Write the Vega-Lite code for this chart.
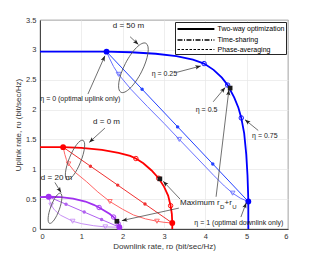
{
"$schema":"https://vega.github.io/schema/vega-lite/v6.json",
"width":248,"height":209,
"autosize":{"type":"none"},
"padding":{"left":40,"top":20,"right":30,"bottom":35},
"background":"white",
"config":{
 "font":"Liberation Sans",
 "view":{"stroke":"#262626","strokeWidth":0.8},
 "text":{"font":"Liberation Sans"},
 "axis":{"grid":true,"gridColor":"#e6e6e6","gridWidth":0.7,"domainColor":"#262626","domainWidth":0.8,"ticks":false,"labelFont":"Liberation Sans","titleFont":"Liberation Sans","labelFontSize":7.5,"labelColor":"#333333","titleFontSize":8,"titleFontWeight":"normal","titleColor":"#333333"},
 "legend":{"orient":"top-right","offset":2,"padding":1.5,"rowPadding":1,"strokeColor":"#262626","fillColor":"white","symbolType":"M-1,0L7.2,0","symbolSize":81,"symbolStrokeColor":"black","symbolBaseStrokeColor":"black","labelFontSize":7,"labelOffset":30,"labelColor":"black","labelFont":"Liberation Sans","title":null}
},
"datasets":{
 "curves":[
  {"d":"50","m":"two","x":0,"y":2.97},{"d":"50","m":"two","x":0.8,"y":2.97},{"d":"50","m":"two","x":1.61,"y":2.97},{"d":"50","m":"two","x":2.2,"y":2.96},{"d":"50","m":"two","x":2.8,"y":2.935},{"d":"50","m":"two","x":3.3,"y":2.895},{"d":"50","m":"two","x":3.7,"y":2.835},{"d":"50","m":"two","x":3.97,"y":2.77},{"d":"50","m":"two","x":4.2,"y":2.665},{"d":"50","m":"two","x":4.4,"y":2.535},{"d":"50","m":"two","x":4.54,"y":2.41},{"d":"50","m":"two","x":4.7,"y":2.2},{"d":"50","m":"two","x":4.8,"y":2.03},{"d":"50","m":"two","x":4.87,"y":1.86},{"d":"50","m":"two","x":4.94,"y":1.6},{"d":"50","m":"two","x":4.99,"y":1.25},{"d":"50","m":"two","x":5.02,"y":0.9},{"d":"50","m":"two","x":5.035,"y":0.6},{"d":"50","m":"two","x":5.04,"y":0.46},{"d":"50","m":"two","x":5.04,"y":0},
  {"d":"50","m":"ts","x":1.61,"y":2.97},{"d":"50","m":"ts","x":5.04,"y":0.46},
  {"d":"50","m":"pa","x":1.61,"y":2.97},{"d":"50","m":"pa","x":1.68,"y":2.86},{"d":"50","m":"pa","x":1.78,"y":2.72},{"d":"50","m":"pa","x":1.9,"y":2.59},{"d":"50","m":"pa","x":2.2,"y":2.34},{"d":"50","m":"pa","x":2.6,"y":2.05},{"d":"50","m":"pa","x":3.0,"y":1.77},{"d":"50","m":"pa","x":3.37,"y":1.5},{"d":"50","m":"pa","x":3.8,"y":1.19},{"d":"50","m":"pa","x":4.2,"y":0.9},{"d":"50","m":"pa","x":4.46,"y":0.72},{"d":"50","m":"pa","x":4.66,"y":0.6},{"d":"50","m":"pa","x":4.85,"y":0.515},{"d":"50","m":"pa","x":5.04,"y":0.46},
  {"d":"0","m":"two","x":0,"y":1.37},{"d":"0","m":"two","x":0.56,"y":1.37},{"d":"0","m":"two","x":1.0,"y":1.36},{"d":"0","m":"two","x":1.5,"y":1.325},{"d":"0","m":"two","x":1.9,"y":1.275},{"d":"0","m":"two","x":2.18,"y":1.225},{"d":"0","m":"two","x":2.32,"y":1.18},{"d":"0","m":"two","x":2.5,"y":1.1},{"d":"0","m":"two","x":2.7,"y":0.98},{"d":"0","m":"two","x":2.87,"y":0.85},{"d":"0","m":"two","x":3.0,"y":0.71},{"d":"0","m":"two","x":3.1,"y":0.56},{"d":"0","m":"two","x":3.16,"y":0.39},{"d":"0","m":"two","x":3.19,"y":0.25},{"d":"0","m":"two","x":3.2,"y":0.1},{"d":"0","m":"two","x":3.2,"y":0},
  {"d":"0","m":"ts","x":0.56,"y":1.37},{"d":"0","m":"ts","x":3.2,"y":0.1},
  {"d":"0","m":"pa","x":0.56,"y":1.37},{"d":"0","m":"pa","x":0.6,"y":1.25},{"d":"0","m":"pa","x":0.64,"y":1.16},{"d":"0","m":"pa","x":0.69,"y":1.09},{"d":"0","m":"pa","x":0.85,"y":0.95},{"d":"0","m":"pa","x":1.13,"y":0.79},{"d":"0","m":"pa","x":1.4,"y":0.62},{"d":"0","m":"pa","x":1.69,"y":0.46},{"d":"0","m":"pa","x":2.0,"y":0.33},{"d":"0","m":"pa","x":2.26,"y":0.235},{"d":"0","m":"pa","x":2.55,"y":0.17},{"d":"0","m":"pa","x":2.83,"y":0.13},{"d":"0","m":"pa","x":3.0,"y":0.112},{"d":"0","m":"pa","x":3.2,"y":0.1},
  {"d":"20","m":"two","x":0,"y":0.535},{"d":"20","m":"two","x":0.21,"y":0.54},{"d":"20","m":"two","x":0.5,"y":0.535},{"d":"20","m":"two","x":0.8,"y":0.51},{"d":"20","m":"two","x":1.1,"y":0.46},{"d":"20","m":"two","x":1.3,"y":0.405},{"d":"20","m":"two","x":1.43,"y":0.36},{"d":"20","m":"two","x":1.55,"y":0.31},{"d":"20","m":"two","x":1.69,"y":0.25},{"d":"20","m":"two","x":1.78,"y":0.2},{"d":"20","m":"two","x":1.86,"y":0.13},{"d":"20","m":"two","x":1.89,"y":0.09},{"d":"20","m":"two","x":1.92,"y":0.03},{"d":"20","m":"two","x":1.92,"y":0},
  {"d":"20","m":"ts","x":0.21,"y":0.54},{"d":"20","m":"ts","x":1.92,"y":0.03},
  {"d":"20","m":"pa","x":0.21,"y":0.54},{"d":"20","m":"pa","x":0.24,"y":0.46},{"d":"20","m":"pa","x":0.27,"y":0.4},{"d":"20","m":"pa","x":0.35,"y":0.32},{"d":"20","m":"pa","x":0.5,"y":0.23},{"d":"20","m":"pa","x":0.79,"y":0.13},{"d":"20","m":"pa","x":1.0,"y":0.09},{"d":"20","m":"pa","x":1.3,"y":0.055},{"d":"20","m":"pa","x":1.58,"y":0.035},{"d":"20","m":"pa","x":1.92,"y":0.03}
 ],
 "markers":[
  {"d":"50","m":"two","k":"end","x":1.61,"y":2.97},{"d":"50","m":"two","k":"end","x":5.04,"y":0.46},
  {"d":"50","m":"two","k":"open","x":3.97,"y":2.77},{"d":"50","m":"two","k":"open","x":4.54,"y":2.41},{"d":"50","m":"two","k":"open","x":4.87,"y":1.86},
  {"d":"50","m":"ts","k":"dot","x":2.47,"y":2.34},{"d":"50","m":"ts","k":"dot","x":3.33,"y":1.71},{"d":"50","m":"ts","k":"dot","x":4.18,"y":1.09},
  {"d":"50","m":"pa","k":"tri","x":1.9,"y":2.59},{"d":"50","m":"pa","k":"tri","x":3.37,"y":1.5},{"d":"50","m":"pa","k":"tri","x":4.66,"y":0.6},
  {"d":"0","m":"two","k":"end","x":0.56,"y":1.37},{"d":"0","m":"two","k":"end","x":3.2,"y":0.1},
  {"d":"0","m":"two","k":"open","x":2.32,"y":1.18},{"d":"0","m":"two","k":"open","x":2.87,"y":0.85},{"d":"0","m":"two","k":"open","x":3.16,"y":0.39},
  {"d":"0","m":"ts","k":"dot","x":1.22,"y":1.05},{"d":"0","m":"ts","k":"dot","x":1.88,"y":0.735},{"d":"0","m":"ts","k":"dot","x":2.54,"y":0.42},
  {"d":"0","m":"pa","k":"tri","x":0.69,"y":1.09},{"d":"0","m":"pa","k":"tri","x":1.69,"y":0.46},{"d":"0","m":"pa","k":"tri","x":2.83,"y":0.13},
  {"d":"20","m":"two","k":"end","x":0.21,"y":0.54},{"d":"20","m":"two","k":"end","x":1.92,"y":0.03},
  {"d":"20","m":"two","k":"open","x":1.43,"y":0.36},{"d":"20","m":"two","k":"open","x":1.78,"y":0.2},{"d":"20","m":"two","k":"open","x":1.89,"y":0.09},
  {"d":"20","m":"ts","k":"dot","x":0.63,"y":0.415},{"d":"20","m":"ts","k":"dot","x":1.07,"y":0.284},{"d":"20","m":"ts","k":"dot","x":1.49,"y":0.158},
  {"d":"20","m":"pa","k":"tri","x":0.27,"y":0.4},{"d":"20","m":"pa","k":"tri","x":0.79,"y":0.13},{"d":"20","m":"pa","k":"tri","x":1.58,"y":0.035},
  {"d":"50","m":"two","k":"max","x":4.6,"y":2.36},{"d":"0","m":"two","k":"max","x":2.9,"y":0.84},{"d":"20","m":"two","k":"max","x":1.86,"y":0.13}
 ],
 "arrows":[
  {"x":2.38,"y":3.09,"tx":2.18,"ty":3.22},
  {"x":1.57,"y":2.9,"tx":1.16,"ty":2.26},
  {"x":3.89,"y":2.73,"tx":3.29,"ty":2.62},
  {"x":4.48,"y":2.37,"tx":4.19,"ty":2.13},
  {"x":4.96,"y":1.83,"tx":5.28,"ty":1.65},
  {"x":1.19,"y":1.45,"tx":1.57,"ty":1.69},
  {"x":0.51,"y":0.61,"tx":0.36,"ty":0.78},
  {"x":2.98,"y":0.8,"tx":3.39,"ty":0.5},
  {"x":1.98,"y":0.14,"tx":3.36,"ty":0.35},
  {"x":4.57,"y":2.33,"tx":4.26,"ty":0.54},
  {"x":4.99,"y":0.44,"tx":4.86,"ty":0.2}
 ]
},
"encoding":{
 "x":{"field":"x","type":"quantitative","scale":{"domain":[0,6],"nice":false,"zero":false},"axis":{"title":"Downlink rate, rᴅ (bit/sec/Hz)","values":[0,1,2,3,4,5,6],"labelPadding":3,"titlePadding":3}},
 "y":{"field":"y","type":"quantitative","scale":{"domain":[0,3.5],"nice":false},"axis":{"title":"Uplink rate, rᴜ (bit/sec/Hz)","values":[0,0.5,1,1.5,2,2.5,3,3.5],"format":"~g","labelPadding":4,"titlePadding":3}}
},
"layer":[
 {"data":{"name":"curves"},"transform":[{"filter":"datum.m != 'two'"},{"calculate":"datum.d + '|' + datum.m","as":"key"}],
  "mark":{"type":"line","strokeWidth":1},
  "encoding":{"color":{"field":"key","type":"nominal","scale":{"domain":["50|two","50|ts","50|pa","0|two","0|ts","0|pa","20|two","20|ts","20|pa"],"range":["#0000ff","#2442ff","#6a72ff","#ff0000","#f03030","#ff6464","#a030f0","#b060f0","#c890f5"]},"legend":null},"order":{"value":null}}},
 {"data":{"name":"curves"},"transform":[{"filter":"datum.m == 'two'"},{"calculate":"datum.d + '|' + datum.m","as":"key"}],
  "mark":{"type":"line","strokeWidth":1.8},
  "encoding":{"color":{"field":"key","type":"nominal","legend":null},"order":{"value":null}}},
 {"data":{"name":"markers"},"transform":[{"filter":"datum.k == 'tri'"},{"calculate":"datum.d + '|' + datum.m","as":"key"}],
  "mark":{"type":"point","shape":"triangle-down","filled":false,"size":22,"strokeWidth":0.9,"opacity":1},
  "encoding":{"color":{"field":"key","type":"nominal","legend":null}}},
 {"data":{"name":"markers"},"transform":[{"filter":"datum.k == 'dot'"},{"calculate":"datum.d + '|' + datum.m","as":"key"}],
  "mark":{"type":"point","shape":"circle","filled":true,"size":12,"opacity":1},
  "encoding":{"color":{"field":"key","type":"nominal","legend":null}}},
 {"data":{"name":"markers"},"transform":[{"filter":"datum.k == 'open'"},{"calculate":"datum.d + '|' + datum.m","as":"key"}],
  "mark":{"type":"point","shape":"circle","filled":false,"size":20,"strokeWidth":0.9,"opacity":1},
  "encoding":{"color":{"field":"key","type":"nominal","legend":null}}},
 {"data":{"name":"markers"},"transform":[{"filter":"datum.k == 'max'"}],
  "mark":{"type":"point","shape":"square","filled":true,"size":22,"color":"#1a1a1a","opacity":1}},
 {"data":{"name":"markers"},"transform":[{"filter":"datum.k == 'end'"},{"calculate":"datum.d + '|' + datum.m","as":"key"}],
  "mark":{"type":"point","shape":"circle","filled":true,"size":34,"opacity":1},
  "encoding":{"color":{"field":"key","type":"nominal","legend":null}}},
 {"data":{"values":[{"x":2.26,"y":2.7}]},
  "mark":{"type":"point","shape":"M-1,0C-1,-0.18,-0.552,-0.33,0,-0.33C0.552,-0.33,1,-0.18,1,0C1,0.18,0.552,0.33,0,0.33C-0.552,0.33,-1,0.18,-1,0Z","size":3025,"angle":297,"filled":false,"color":"#555555","strokeWidth":0.8,"opacity":1}},
 {"data":{"values":[{"x":0.847,"y":1.156}]},
  "mark":{"type":"point","shape":"M-1,0C-1,-0.155,-0.552,-0.28,0,-0.28C0.552,-0.28,1,-0.155,1,0C1,0.155,0.552,0.28,0,0.28C-0.552,0.28,-1,0.155,-1,0Z","size":1798,"angle":292,"filled":false,"color":"#555555","strokeWidth":0.8,"opacity":1}},
 {"data":{"values":[{"x":0.363,"y":0.347}]},
  "mark":{"type":"point","shape":"M-1,0C-1,-0.155,-0.552,-0.28,0,-0.28C0.552,-0.28,1,-0.155,1,0C1,0.155,0.552,0.28,0,0.28C-0.552,0.28,-1,0.155,-1,0Z","size":1024,"angle":290,"filled":false,"color":"#555555","strokeWidth":0.8,"opacity":1}},
 {"data":{"name":"arrows"},
  "mark":{"type":"rule","color":"#333333","strokeWidth":0.7},
  "encoding":{"x2":{"field":"tx"},"y2":{"field":"ty"}}},
 {"data":{"name":"arrows"},"transform":[{"calculate":"atan2((datum.x - datum.tx) * 41.333, (datum.y - datum.ty) * 59.714) * 180 / PI","as":"ang"}],
  "mark":{"type":"point","shape":"M0,0L0.38,1L0,0.78L-0.38,1Z","size":121,"filled":true,"color":"#222222","opacity":1},
  "encoding":{"angle":{"field":"ang","type":"quantitative","scale":null}}},
 {"data":{"values":[{"x":0.975,"y":2.18,"t":"η = 0 (optimal uplink only)"},{"x":3.01,"y":2.6,"t":"η = 0.25"},{"x":4.03,"y":2.0,"t":"η = 0.5"},{"x":5.44,"y":1.55,"t":"η = 0.75"},{"x":4.81,"y":0.105,"t":"η = 1 (optimal downlink only)"}]},
  "mark":{"type":"text","font":"Liberation Sans","fontSize":7,"color":"#1a1a1a","align":"center","baseline":"middle"},
  "encoding":{"text":{"field":"t"}}},
 {"data":{"values":[{"x":2.14,"y":3.4,"t":"d = 50 m"},{"x":1.61,"y":1.8,"t":"d = 0 m"},{"x":0.4,"y":0.85,"t":"d = 20 m"}]},
  "mark":{"type":"text","font":"Liberation Sans","fontSize":8,"color":"#1a1a1a","align":"center","baseline":"middle"},
  "encoding":{"text":{"field":"t"}}},
 {"data":{"values":[{"x":3.387,"y":0.43,"t":"Maximum r"},{"x":4.464,"y":0.43,"t":"+r"}]},
  "mark":{"type":"text","font":"Liberation Sans","fontSize":8,"color":"#1a1a1a","align":"left","baseline":"middle"},
  "encoding":{"text":{"field":"t"}}},
 {"data":{"values":[{"x":4.355,"y":0.375,"t":"D"},{"x":4.65,"y":0.375,"t":"U"}]},
  "mark":{"type":"text","font":"Liberation Sans","fontSize":6,"color":"#1a1a1a","align":"left","baseline":"middle"},
  "encoding":{"text":{"field":"t"}}},
 {"data":{"values":[{"m":"Two-way optimization"},{"m":"Time-sharing"},{"m":"Phase-averaging"}]},
  "mark":{"type":"rule","clip":true,"color":"black"},
  "encoding":{
   "x":{"datum":-1},"x2":{"datum":-0.5},"y":{"datum":-1},"y2":{"datum":-0.5},
   "strokeDash":{"field":"m","type":"nominal","scale":{"domain":["Two-way optimization","Time-sharing","Phase-averaging"],"range":[[1,0],[5,1.5,1,1.5],[2.5,1.5]]},"title":null},
   "strokeWidth":{"field":"m","type":"ordinal","scale":{"domain":["Two-way optimization","Time-sharing","Phase-averaging"],"range":[1.8,1,1]},"title":null}
  }}
]
}
